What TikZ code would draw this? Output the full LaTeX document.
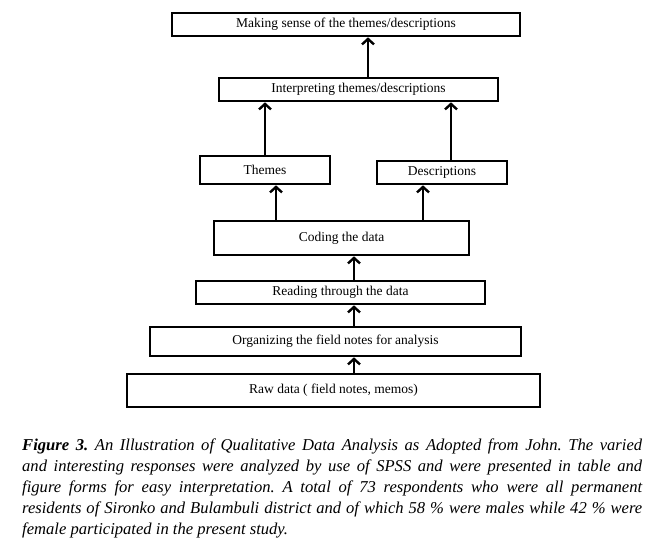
\documentclass[tikz,border=0pt]{standalone}
\usepackage{fontspec}
\setmainfont{Liberation Serif}
\usetikzlibrary{arrows.meta}
\tikzset{
  stepbox/.style={draw=black, line width=2.6pt, minimum height=#1, inner sep=0pt, font=\fontsize{13.5}{15}\selectfont, text=black},
  arr/.style={line width=2.4pt, -{Straight Barb[length=5.5pt,width=12pt,line width=2.4pt]}}
}
\begin{document}
\begin{tikzpicture}[x=1pt,y=-1pt]
\useasboundingbox (0,0) rectangle (662,554);
\node[stepbox=23pt, minimum width=348pt] (sense) at (346,24.5) {Making sense of the themes/descriptions};
\node[stepbox=23pt, minimum width=279pt] (interp) at (358.5,89.5) {Interpreting themes/descriptions};
\node[stepbox=28pt, minimum width=130pt] (themes) at (265,170) {Themes};
\node[stepbox=23pt, minimum width=130pt] (desc) at (442,172.5) {Descriptions};
\node[stepbox=34pt, minimum width=255pt] (coding) at (341.5,238) {Coding the data};
\node[stepbox=23pt, minimum width=289pt] (reading) at (340.5,292.5) {Reading through the data};
\node[stepbox=29pt, minimum width=371pt] (organ) at (335.5,341.5) {Organizing the field notes for analysis};
\node[stepbox=33pt, minimum width=413pt] (raw) at (333.5,390.5) {Raw data ( field notes, memos)};

\draw[arr] (368,0 |- interp.north) -- (368,0 |- sense.south);
\draw[arr] (265,0 |- themes.north) -- (265,0 |- interp.south);
\draw[arr] (451,0 |- desc.north) -- (451,0 |- interp.south);
\draw[arr] (276,0 |- coding.north) -- (276,0 |- themes.south);
\draw[arr] (423,0 |- coding.north) -- (423,0 |- desc.south);
\draw[arr] (354,0 |- reading.north) -- (354,0 |- coding.south);
\draw[arr] (354,0 |- organ.north) -- (354,0 |- reading.south);
\draw[arr] (354,0 |- raw.north) -- (354,0 |- organ.south);

\node[anchor=north west, inner sep=0pt, text width=620pt, align=justify,
      font=\fontsize{16.6}{21}\selectfont\itshape\frenchspacing] (caption) at (22,439)
  {\textbf{Figure 3.} An Illustration of Qualitative Data Analysis as Adopted from John. The varied\linebreak
   and interesting responses were analyzed by use of SPSS and were presented in table and\linebreak
   figure forms for easy interpretation. A total of 73 respondents who were all permanent\linebreak
   residents of Sironko and Bulambuli district and of which 58 \% were males while 42 \% were\linebreak
   female participated in the present study.};
\end{tikzpicture}
\end{document}
